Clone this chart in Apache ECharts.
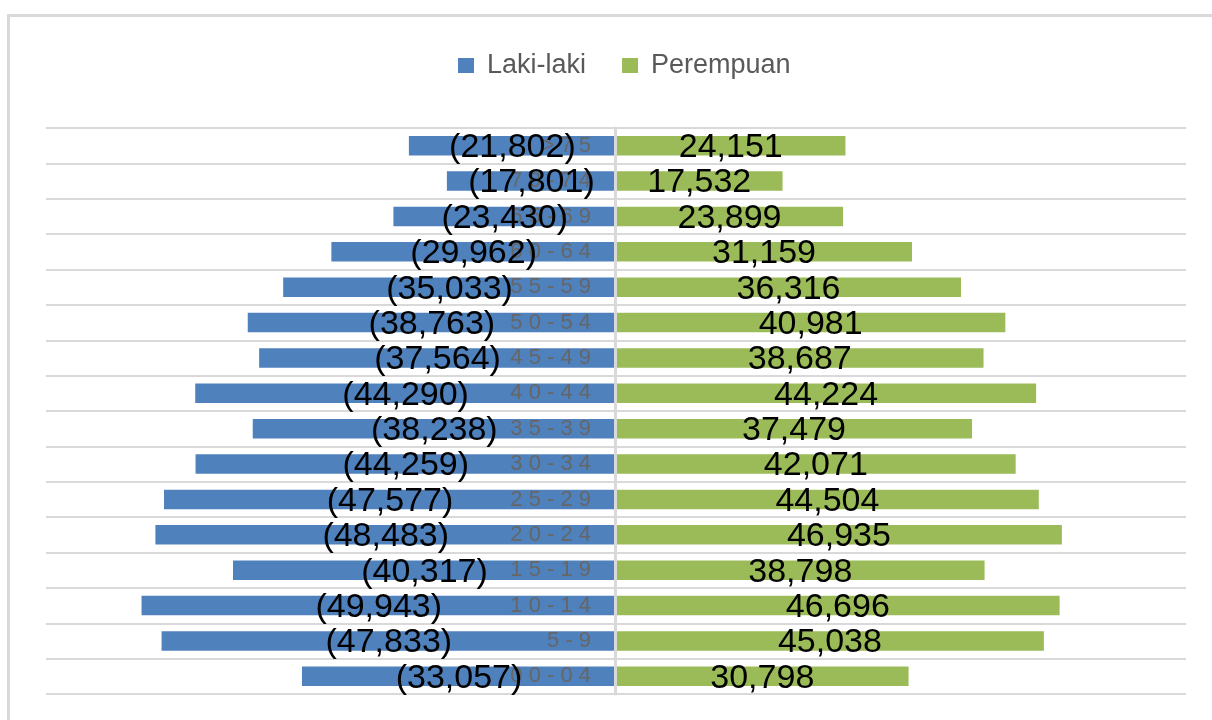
<!DOCTYPE html>
<html>
<head>
<meta charset="utf-8">
<script src="https://cdn.jsdelivr.net/npm/echarts@6/dist/echarts.min.js"></script>
<style>
  html, body { margin: 0; padding: 0; background: #fff; }
  #chart { width: 1212px; height: 720px; }
</style>
</head>
<body>
<div id="chart"></div>
<script>
// kelompok umur, dari bawah ke atas
const categories = ['00-04', '5-9', '10-14', '15-19', '20-24', '25-29', '30-34', '35-39',
  '40-44', '45-49', '50-54', '55-59', '60-64', '65-69', '70-74', '>75'];
const lakiLaki = [33057, 47833, 49943, 40317, 48483, 47577, 44259, 38238,
  44290, 37564, 38763, 35033, 29962, 23430, 17801, 21802];
const perempuan = [30798, 45038, 46696, 38798, 46935, 44504, 42071, 37479,
  44224, 38687, 40981, 36316, 31159, 23899, 17532, 24151];

const el = document.getElementById('chart');
const chart = echarts.init(el);

const fmt = (n) => Math.abs(n).toLocaleString('en-US');
const labelStyle = {
  show: true,
  position: 'inside',
  color: '#000',
  fontFamily: 'Liberation Sans',
  fontSize: 34,
  offset: [0, 2],
};

const option = {
  animation: false,
  graphic: [{
    type: 'rect',
    z: -10,
    shape: { x: 8.5, y: 15.5, width: 1400, height: 900 },
    style: { fill: 'none', stroke: '#d9d9d9', lineWidth: 3 },
  }],
  legend: {
    data: ['Laki-laki', 'Perempuan'],
    left: 453,
    top: 47,
    icon: 'rect',
    itemWidth: 16,
    itemHeight: 15,
    itemGap: 36,
    textStyle: {
      color: '#595959',
      fontFamily: 'Liberation Sans',
      fontSize: 27,
      padding: [0, 0, 0, 8],
    },
  },
  grid: { left: 46, right: 26, top: 128, bottom: 26, outerBoundsMode: 'none', containLabel: false },
  xAxis: {
    type: 'value',
    min: -60000,
    max: 60000,
    axisLabel: { show: false },
    axisLine: { show: false },
    axisTick: { show: false },
    splitLine: { show: false },
  },
  yAxis: {
    type: 'category',
    data: categories,
    z: 2,
    offset: -569,
    axisTick: { show: false },
    axisLine: { show: true, onZero: false, lineStyle: { color: '#d9d9d9', width: 3 } },
    axisLabel: {
      color: '#666666',
      fontFamily: 'Liberation Sans',
      fontSize: 22,
      margin: 24,
      formatter: (v) => v.split('').join(' '),
    },
    splitLine: { show: true, lineStyle: { color: '#d9d9d9', width: 2 } },
  },
  series: [
    {
      name: 'Laki-laki',
      type: 'bar',
      stack: 'a',
      z: 1,
      barWidth: '55%',
      barGap: '-100%',
      itemStyle: { color: '#4f81bd' },
      data: lakiLaki.map((v) => -v),
    },
    {
      name: 'Perempuan',
      type: 'bar',
      stack: 'a',
      z: 1,
      barWidth: '55%',
      itemStyle: { color: '#9bbb59' },
      data: perempuan,
    },
    // label saja, di atas label sumbu
    {
      name: 'lblL',
      type: 'bar',
      stack: 'b',
      z: 3,
      barWidth: '55%',
      itemStyle: { color: 'transparent' },
      label: { ...labelStyle, formatter: (p) => '(' + fmt(p.value) + ')' },
      data: lakiLaki.map((v) => -v),
    },
    {
      name: 'lblP',
      type: 'bar',
      stack: 'b',
      z: 3,
      barWidth: '55%',
      itemStyle: { color: 'transparent' },
      label: { ...labelStyle, formatter: (p) => fmt(p.value) },
      data: perempuan,
    },
  ],
};

chart.setOption(option);
</script>
</body>
</html>
